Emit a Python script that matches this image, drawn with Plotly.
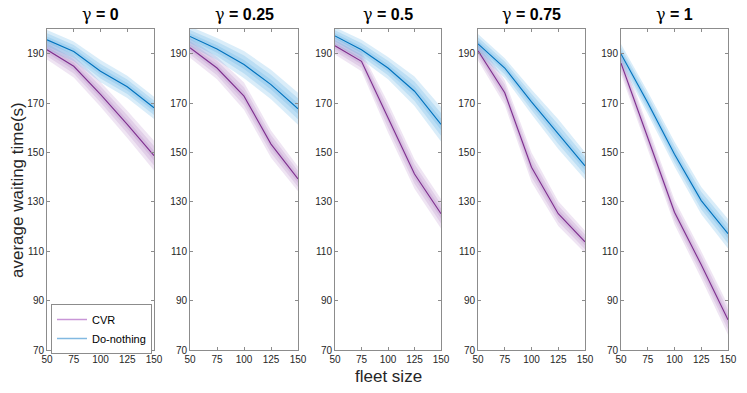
#%% IMPORTS

import plotly.graph_objects as go

#%% DATA

fleet_size = [50, 75, 100, 125, 150]
gamma_labels = ['0', '0.25', '0.5', '0.75', '1']

# mean waiting time per gamma panel
cvr_g0 = [191.6, 184.9, 173.5, 161.4, 148.7]
dn_g0 = [195.6, 190.9, 182.9, 176.6, 168.1]
cvr_g025 = [192.4, 184.2, 172.8, 153.4, 139.3]
dn_g025 = [197.0, 191.9, 185.6, 177.5, 167.7]
cvr_g05 = [193.2, 186.9, 164.1, 141.3, 125.2]
dn_g05 = [197.2, 191.6, 184.2, 174.8, 161.4]
cvr_g075 = [191.2, 174.2, 144.0, 125.2, 113.8]
dn_g075 = [194.0, 184.2, 170.5, 157.4, 144.6]
cvr_g1 = [186.2, 156.0, 125.8, 104.5, 82.2]
dn_g1 = [189.9, 170.1, 149.3, 130.5, 117.1]

# outer band half-width per point
cvr_spread_g0 = [4.0, 4.5, 5.0, 5.5, 6.0]
dn_spread_g0 = [4.0, 4.0, 4.5, 4.5, 4.5]
cvr_spread_g025 = [4.0, 4.5, 5.5, 5.5, 5.0]
dn_spread_g025 = [4.0, 4.5, 5.5, 6.0, 6.5]
cvr_spread_g05 = [3.5, 4.0, 6.0, 6.0, 6.0]
dn_spread_g05 = [3.5, 4.0, 4.5, 6.0, 7.0]
cvr_spread_g075 = [4.0, 5.0, 6.0, 5.0, 4.5]
dn_spread_g075 = [4.0, 4.0, 5.0, 6.0, 5.5]
cvr_spread_g1 = [4.5, 5.0, 5.0, 5.5, 6.0]
dn_spread_g1 = [4.0, 4.5, 5.0, 5.5, 6.0]

cvr_means = [cvr_g0, cvr_g025, cvr_g05, cvr_g075, cvr_g1]
dn_means = [dn_g0, dn_g025, dn_g05, dn_g075, dn_g1]
cvr_spreads = [cvr_spread_g0, cvr_spread_g025, cvr_spread_g05, cvr_spread_g075, cvr_spread_g1]
dn_spreads = [dn_spread_g0, dn_spread_g025, dn_spread_g05, dn_spread_g075, dn_spread_g1]

y_ticks = [70, 90, 110, 130, 150, 170, 190]

#%% STYLE

W, H = 747, 393
TOP, BOTTOM = 29, 350
panel_px = [(47, 154), (190, 298), (335, 441), (478, 585), (621, 728)]

CVR_LINE = 'rgb(126,47,142)'
DN_LINE = 'rgb(0,114,189)'
CVR_FILL = 'rgba(150,80,175,0.15)'
DN_FILL = 'rgba(70,165,225,0.2)'
band_levels = [1.0, 0.66, 0.33]

AX_COL = 'rgb(140,140,140)'
TXT_COL = 'rgb(38,38,38)'
FONT = 'Liberation Sans, Arial, sans-serif'

#%% FIGURE

fig = go.Figure()


def add_band(mean, spread, fill, xa, ya):
    for lvl in band_levels:
        upper = [m + s * lvl for m, s in zip(mean, spread)]
        lower = [m - s * lvl for m, s in zip(mean, spread)]
        fig.add_trace(go.Scatter(
            x=fleet_size + fleet_size[::-1],
            y=upper + lower[::-1],
            fill='toself',
            fillcolor=fill,
            line=dict(width=0),
            mode='lines',
            hoverinfo='skip',
            showlegend=False,
            xaxis=xa, yaxis=ya,
        ))


for i in range(5):
    xa = 'x' if i == 0 else f'x{i+1}'
    ya = 'y' if i == 0 else f'y{i+1}'

    add_band(cvr_means[i], cvr_spreads[i], CVR_FILL, xa, ya)
    add_band(dn_means[i], dn_spreads[i], DN_FILL, xa, ya)

    fig.add_trace(go.Scatter(
        x=fleet_size, y=cvr_means[i], mode='lines',
        line=dict(color=CVR_LINE, width=1.1),
        showlegend=False, xaxis=xa, yaxis=ya,
    ))
    fig.add_trace(go.Scatter(
        x=fleet_size, y=dn_means[i], mode='lines',
        line=dict(color=DN_LINE, width=1.1),
        showlegend=False, xaxis=xa, yaxis=ya,
    ))

    x0, x1 = panel_px[i]
    ax_common = dict(
        showline=True, linecolor=AX_COL, linewidth=1, mirror='ticks',
        ticks='inside', ticklen=3, tickcolor=AX_COL,
        showgrid=False, zeroline=False, automargin=False,
        tickfont=dict(family=FONT, size=10, color=TXT_COL),
    )
    fig.update_layout({
        ('xaxis' if i == 0 else f'xaxis{i+1}'): dict(
            domain=[x0 / W, x1 / W], anchor=ya, range=[50, 150],
            tickvals=[50, 75, 100, 125, 150], **ax_common,
        ),
        ('yaxis' if i == 0 else f'yaxis{i+1}'): dict(
            domain=[0, 1], anchor=xa, range=[70, 200],
            tickvals=y_ticks, **ax_common,
        ),
    })

    # panel title
    fig.add_annotation(
        x=(x0 + x1) / 2 / W, y=(BOTTOM - 15) / (BOTTOM - TOP),
        xref='paper', yref='paper', showarrow=False,
        xanchor='center', yanchor='middle',
        text=(f"<span style='font-family:DejaVu Serif'>γ</span>"
              f"<b> = {gamma_labels[i]}</b>"),
        font=dict(family=FONT, size=16, color='black'),
    )

# legend entries (light lines)
fig.add_trace(go.Scatter(x=[None], y=[None], mode='lines', name='CVR',
                         line=dict(color='rgb(200,150,215)', width=1.5)))
fig.add_trace(go.Scatter(x=[None], y=[None], mode='lines', name='Do-nothing',
                         line=dict(color='rgb(130,185,225)', width=1.5)))

# axis labels
fig.add_annotation(
    x=18 / W, y=(BOTTOM - 190) / (BOTTOM - TOP), xref='paper', yref='paper',
    text='average waiting time(s)', textangle=-90, showarrow=False,
    xanchor='center', yanchor='middle',
    font=dict(family=FONT, size=17, color=TXT_COL),
)
fig.add_annotation(
    x=388 / W, y=(BOTTOM - 376) / (BOTTOM - TOP), xref='paper', yref='paper',
    text='fleet size', showarrow=False, xanchor='center', yanchor='middle',
    font=dict(family=FONT, size=17, color=TXT_COL),
)

fig.update_layout(
    width=W, height=H,
    margin=dict(l=0, r=0, t=TOP, b=H - BOTTOM),
    plot_bgcolor='white', paper_bgcolor='white',
    legend=dict(
        x=51 / W, y=(BOTTOM - 304) / (BOTTOM - TOP),
        xanchor='left', yanchor='top',
        bordercolor=AX_COL, borderwidth=1, bgcolor='white',
        font=dict(family=FONT, size=11, color='black'),
        tracegroupgap=0, itemwidth=30,
    ),
)

fig.write_html(
    "out.html",
    config={'displayModeBar': False},
    post_script="document.body.style.margin='0';",
)
